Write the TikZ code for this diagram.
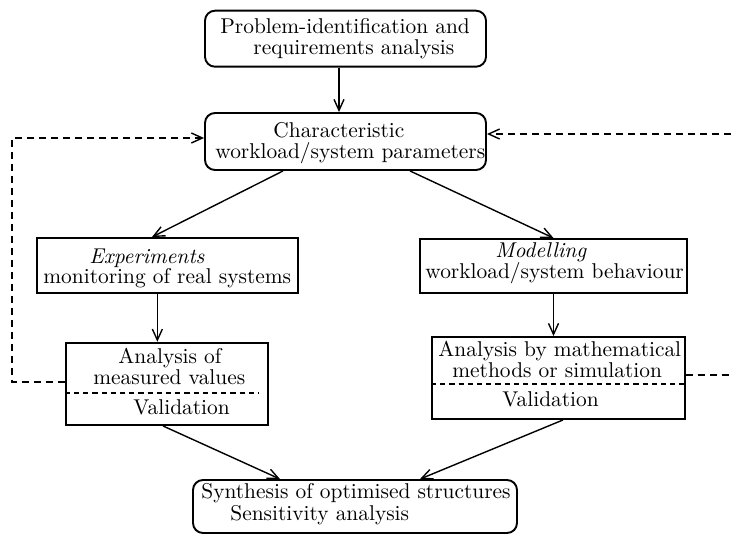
\documentclass[tikz,border=0pt]{standalone}
\usetikzlibrary{arrows.meta}
\begin{document}
\begin{tikzpicture}[x=0.5pt,y=-0.5pt,
  box/.style={draw,line width=0.95pt,inner sep=0pt},
  rbox/.style={box,rounded corners=5pt},
  txt/.style={anchor=base west,inner sep=0pt,font=\fontsize{10.7}{11}\selectfont},
  arr/.style={line width=0.7pt,-{Straight Barb[length=5.5pt,width=5pt]}},
  fb/.style={line width=0.9pt,dash pattern=on 3.5pt off 2.5pt},
  divider/.style={line width=0.8pt,dash pattern=on 2.6pt off 2pt}]
\useasboundingbox (0,0) rectangle (731,534);
% boxes
\node[rbox,minimum width=140.5pt,minimum height=28pt] (top) at (345.5,38.7) {};
\node[rbox,minimum width=140.5pt,minimum height=28.5pt] (char) at (345.5,141.5) {};
\node[box,minimum width=130.35pt,minimum height=27.5pt] (exp) at (167.35,265.5) {};
\node[box,minimum width=133.5pt,minimum height=27pt] (mod) at (553.5,266) {};
\node[box,minimum width=101pt,minimum height=41.15pt] (ana1) at (166.7,383.85) {};
\node[box,minimum width=126.5pt,minimum height=41pt] (ana2) at (558.5,378) {};
\node[rbox,minimum width=162pt,minimum height=26.5pt] (bot) at (355,506.5) {};
% texts
\node[txt] (t1) at (220,33.3) {Problem-identification and};
\node[txt] (t2) at (253,54.5) {requirements analysis};
\node[txt] (c1) at (273,138) {Characteristic};
\node[txt] (c2) at (215,159) {workload/system parameters};
\node[txt] (e1) at (89,263) {\itshape Experiments};
\node[txt] (e2) at (43,283) {monitoring of real systems};
\node[txt] (m1) at (495,257) {\itshape Modelling};
\node[txt] (m2) at (425,278) {workload/system behaviour};
\node[txt] (a1) at (118,363) {Analysis of};
\node[txt] (a2) at (93,384) {measured values};
\node[txt] (a3) at (133,414) {Validation};
\node[txt] (b1) at (438,356) {Analysis by mathematical};
\node[txt] (b2) at (452,377) {methods or simulation};
\node[txt] (b3) at (502,406) {Validation};
\node[txt] (s1) at (201,498) {Synthesis of optimised structures};
\node[txt] (s2) at (230,520) {Sensitivity analysis};
% dividers
\coordinate (d1) at (258,392.7);
\coordinate (d2) at (0,384);
\draw[divider] (ana1.west |- d1) -- (d1);
\draw[divider] (ana2.west |- d2) -- (ana2.east |- d2);
% solid arrows
\draw[arr] ([xshift=-3.25pt]top.south) -- ([xshift=-3.25pt]char.north);
\draw[arr] ([xshift=-31.25pt]char.south) -- ([xshift=-7.7pt]exp.north);
\draw[arr] ([xshift=32.25pt]char.south) -- (mod.north);
\draw[arr] ([xshift=-5pt]exp.south) -- ([xshift=-5pt]exp.south |- ana1.north);
\draw[arr] (mod.south) -- (mod.south |- ana2.north);
\draw[arr] ([xshift=-1.85pt]ana1.south) -- ([xshift=-37.5pt]bot.north);
\draw[arr] ([xshift=2.25pt]ana2.south) -- ([xshift=32.5pt]bot.north);
% feedback
\coordinate (lc) at (12,138);
\coordinate (rb) at (731,375);
\coordinate (rt) at (731,134);
\draw[fb,arr] ([yshift=0.9pt]ana1.west) -| (lc) -- (lc -| char.west);
\draw[fb] (ana2.east |- rb) -- (rb);
\draw[fb,arr] (rt) -- (rt -| char.east);
\end{tikzpicture}
\end{document}
